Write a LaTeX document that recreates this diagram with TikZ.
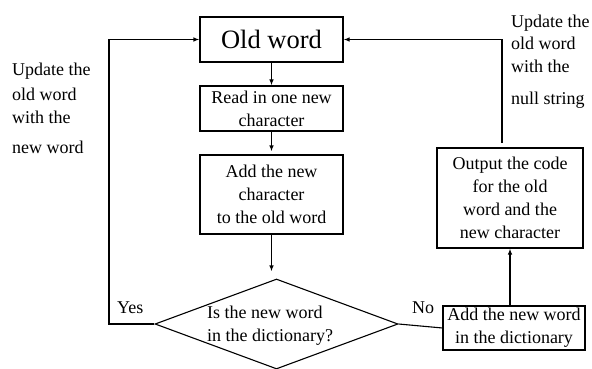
\documentclass[tikz,border=0pt]{standalone}
\usepackage{fontspec}
\setmainfont{Liberation Serif}
\usetikzlibrary{arrows.meta,shapes.geometric}
\begin{document}
\begin{tikzpicture}[x=1pt,y=-1pt,
  every node/.style={font=\fontsize{18}{23}\selectfont},
  box/.style={draw,line width=1.1pt,inner sep=0pt,align=center},
  conn/.style={line width=1.1pt},
  arr/.style={conn,-{Latex[length=6pt,width=4.5pt]}},
  lbl/.style={anchor=base west,inner sep=0pt}]
\useasboundingbox (0,0) rectangle (592,369);
\fill[white] (0,0) rectangle (592,369);
\node[box,minimum width=143pt,minimum height=45pt,font=\fontsize{26.5}{30}\selectfont] (old) at (271.5,39.5) {Old word};
\node[box,minimum width=143pt,minimum height=45pt] (read) at (271.5,108.5) {Read in one new\\character};
\node[box,minimum width=143pt,minimum height=79pt] (add) at (271.5,194.5) {Add the new\\character\\to the old word};
\node[draw,line width=1.1pt,shape=diamond,inner sep=0pt,minimum width=243pt,minimum height=90pt] (d) at (276.5,324) {};
\node[anchor=west,inner sep=0pt,align=left] (dt) at (207,326) {Is the new word\\in the dictionary?};
\node[box,minimum width=142pt,minimum height=44pt] (dict) at (514,328) {Add the new word\\ in the dictionary};
\node[box,minimum width=146pt,minimum height=100pt] (out) at (510,198) {Output the code\\for the old\\word and the\\new character};
\node[lbl] (lt1) at (12,76) {Update the};
\node[lbl] (lt2) at (12,100) {old word};
\node[lbl] (lt3) at (12,123) {with the};
\node[lbl] (lt4) at (12,153) {new word};
\node[lbl] (rt1) at (511,28) {Update the};
\node[lbl] (rt2) at (511,50) {old word};
\node[lbl] (rt3) at (511,73) {with the};
\node[lbl] (rt4) at (511,104) {null string};
\node[lbl] (yes) at (117,313) {Yes};
\node[lbl] (no) at (412,313) {No};
\coordinate (lc) at (109,324);
\coordinate (rc) at (502,143);
\draw[arr] (old.south) -- (read.north);
\draw[arr] (read.south) -- ([yshift=3pt]add.north);
\draw[arr] (add.south) -- ([yshift=7pt]d.north -| add.south);
\draw[arr] (d.west) -- (lc) |- (old.west);
\draw[conn] (d.east) -- (dict.west);
\draw[arr] (dict.north -| out.south) -- (out.south);
\draw[arr] (rc) |- (old.east);
\end{tikzpicture}
\end{document}
